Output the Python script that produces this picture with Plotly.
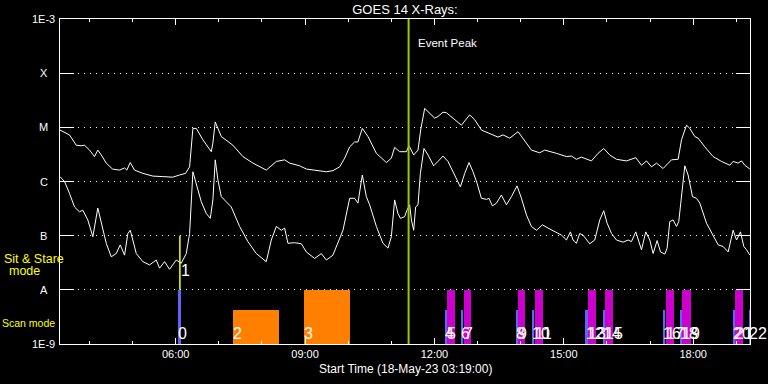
import numpy as np
import pandas as pd
import plotly.graph_objects as go

START = pd.Timestamp("2023-05-18 03:19:00")
END = pd.Timestamp("2023-05-18 19:19:00")
EVENT_PEAK = pd.Timestamp("2023-05-18 11:24:00")

# GOES 14 long channel: minutes after start, log10 flux (W/m^2)
long_min = [0, 13.2, 22.6, 29.5, 34.1, 41.1, 48.0, 52.6, 57.4, 64.3, 73.1, 82.8, 89.8, 93.0, 97.7,
            103.7, 115.3, 129.2, 143.1, 157.0, 166.3, 174.7, 180.3, 184.9, 189.6, 198.8, 210.5,
            212.7, 216.0, 224.4, 240.5, 254.5, 268.4, 287.0, 301.0, 312.5, 319.5, 333.4, 342.7,
            356.6, 370.6, 379.7, 389.1, 396.0, 403.0, 409.9, 414.5, 420.6, 428.5, 440.2, 454.1,
            461.0, 465.6, 472.6, 481.9, 485.5, 492.1, 498.1, 501.8, 507.4, 514.3, 521.3, 525.9,
            532.9, 537.6, 546.8, 558.5, 570.0, 577.0, 586.3, 597.9, 609.4, 616.4, 625.7, 637.3,
            644.2, 655.9, 667.4, 674.4, 690.7, 704.6, 711.6, 718.5, 725.5, 739.4, 748.6, 756.5,
            764.9, 774.2, 788.1, 801.1, 809.0, 816.0, 823.0, 829.9, 839.1, 846.1, 850.8, 860.0,
            864.7, 871.7, 876.3, 883.2, 887.8, 897.1, 908.7, 920.4, 932.0, 936.5, 943.5, 948.2,
            952.8, 959.8]
long_log = [-5.05, -5.14, -5.33, -5.34, -5.33, -5.42, -5.54, -5.42, -5.51, -5.66, -5.77, -5.79, -5.75,
            -5.79, -5.65, -5.79, -5.85, -5.90, -5.91, -5.92, -5.88, -5.85, -5.73, -5.02, -5.02,
            -5.23, -5.45, -5.29, -4.90, -5.17, -5.33, -5.54, -5.66, -5.79, -5.63, -5.60, -5.66,
            -5.71, -5.77, -5.80, -5.82, -5.80, -5.73, -5.57, -5.36, -5.27, -5.27, -5.02, -5.17,
            -5.48, -5.65, -5.57, -5.37, -5.45, -5.45, -5.34, -5.51, -5.42, -5.05, -4.65, -4.74,
            -4.83, -4.80, -4.72, -4.73, -4.83, -4.96, -4.77, -4.86, -5.05, -5.12, -5.18, -5.14,
            -5.20, -5.08, -5.20, -5.42, -5.47, -5.42, -5.48, -5.54, -5.53, -5.59, -5.55, -5.62,
            -5.48, -5.39, -5.51, -5.59, -5.62, -5.56, -5.70, -5.62, -5.73, -5.66, -5.76, -5.66,
            -5.60, -5.59, -5.23, -4.96, -5.02, -5.17, -5.20, -5.36, -5.54, -5.63, -5.70, -5.63,
            -5.66, -5.62, -5.70, -5.77]

# GOES 14 short channel: minutes after start, log10 flux (W/m^2)
short_min = [0, 6.3, 13.2, 20.2, 27.1, 31.7, 38.7, 45.7, 52.6, 57.4, 64.3, 71.3, 78.2, 83.8, 89.8,
             94.4, 97.7, 101.3, 106.1, 115.3, 124.6, 133.9, 138.5, 145.5, 152.4, 161.7, 168.7,
             175.7, 180.3, 184.9, 189.6, 196.5, 203.5, 209.1, 212.7, 216.0, 219.7, 224.4, 238.3,
             249.9, 261.4, 273.1, 287.0, 294.0, 301.0, 307.9, 312.5, 317.1, 326.4, 335.8, 342.7,
             354.3, 363.6, 370.6, 379.7, 386.7, 393.7, 403.0, 409.9, 414.5, 420.6, 426.2, 430.8,
             440.2, 449.3, 456.3, 461.0, 465.6, 470.2, 473.6, 479.5, 482.7, 486.5, 488.9, 492.1,
             494.8, 498.1, 501.4, 506.4, 512.0, 519.9, 525.9, 532.9, 539.8, 549.1, 557.1, 563.1,
             569.1, 574.6, 580.2, 586.3, 593.3, 596.9, 601.6, 607.2, 614.1, 621.1, 628.1, 635.9,
             642.0, 649.0, 655.9, 662.9, 671.2, 679.0, 688.3, 697.7, 704.6, 710.2, 713.8, 718.5,
             723.1, 727.7, 737.0, 744.0, 751.0, 756.5, 761.2, 767.3, 774.2, 783.4, 790.4, 795.1,
             801.1, 809.0, 815.0, 820.6, 825.2, 830.8, 835.5, 841.5, 844.7, 848.4, 853.0, 857.7,
             860.9, 864.7, 869.3, 873.9, 880.0, 885.6, 890.2, 899.5, 907.9, 915.7, 922.6, 929.6,
             936.5, 941.3, 946.8, 951.4, 955.2, 959.8]
short_log = [-5.91, -6.00, -6.22, -6.47, -6.56, -6.53, -6.71, -7.02, -6.49, -6.77, -7.14, -7.39, -7.33,
             -7.17, -7.36, -6.96, -6.90, -7.08, -7.33, -7.48, -7.54, -7.45, -7.60, -7.48, -7.62,
             -7.45, -7.51, -7.33, -6.96, -5.82, -6.03, -6.37, -6.59, -6.68, -6.34, -5.60, -5.97,
             -6.28, -6.47, -6.83, -7.11, -7.33, -7.48, -7.08, -6.83, -6.90, -6.86, -7.14, -7.13,
             -7.15, -7.30, -7.42, -7.33, -7.45, -7.36, -7.14, -6.90, -6.31, -6.31, -6.40, -5.88,
             -6.28, -6.43, -6.83, -7.14, -7.23, -7.02, -6.34, -6.59, -6.68, -6.65, -6.53, -6.43,
             -6.71, -6.90, -6.47, -6.43, -5.85, -5.39, -5.51, -5.71, -5.63, -5.53, -5.63, -5.88,
             -6.10, -5.85, -5.65, -5.82, -6.03, -6.31, -6.33, -6.31, -6.45, -6.40, -6.25, -6.43,
             -6.28, -6.08, -6.31, -6.62, -6.83, -6.90, -6.80, -6.86, -6.93, -6.99, -7.08, -6.93,
             -7.08, -7.14, -6.96, -6.99, -7.15, -7.08, -6.71, -6.54, -6.77, -6.96, -7.08, -7.12,
             -7.08, -7.11, -6.93, -7.26, -6.93, -7.08, -7.33, -7.09, -7.30, -7.34, -7.23, -6.74,
             -6.71, -6.83, -6.74, -6.22, -5.71, -5.88, -6.28, -6.31, -6.40, -6.77, -6.99, -7.17,
             -7.20, -7.30, -6.90, -7.08, -6.93, -7.20, -7.26, -7.36]

# Observations: number, kind, start / end (minutes after start), top level (log10)
obs_num = [0, 2, 3, 4, 5, 6, 7, 8, 9, 10, 11, 12, 13, 14, 15, 16, 17, 18, 19, 20, 21, 22]
obs_kind = ["scan", "raster", "raster", "scan", "stare", "scan", "stare", "scan", "stare", "scan",
            "stare", "scan", "stare", "scan", "stare", "scan", "stare", "scan", "stare", "scan",
            "stare", "scan"]
obs_start = [164.5, 240.1, 339.0, 535.2, 538.0, 557.5, 561.7, 634.1, 636.9, 656.3, 660.5, 731.7,
             734.3, 755.2, 758.0, 838.7, 842.9, 862.4, 865.2, 936.1, 938.9, 958.4]
obs_end = [167.7, 305.1, 404.0, 538.0, 549.1, 560.7, 572.4, 636.9, 647.6, 659.5, 671.6, 734.3,
           746.4, 758.0, 769.2, 842.4, 854.4, 865.2, 877.3, 938.9, 950.0, 962.2]
obs_top = [-8.0, -8.37, -8.0, -8.37, -8.0, -8.37, -8.0, -8.37, -8.0, -8.37, -8.0, -8.37, -8.0, -8.37,
           -8.0, -8.37, -8.0, -8.37, -8.0, -8.37, -8.0, -8.37]

# Sit & Stare mode marker (obs 1)
ss_num = 1
ss_time = 166.8
ss_levels = [-7.0, -8.0]

tick_levels = [-3, -4, -5, -6, -7, -8, -9]
tick_names = ["1E-3", "X", "M", "C", "B", "A", "1E-9"]


def t(m):
    return START + pd.to_timedelta(np.asarray(m, dtype=float), unit="m")


FONT = "Liberation Sans"
fig = go.Figure()

kind_color = {"scan": "#6262ff", "raster": "#ff8000", "stare": "#cc00cc"}
for kind in ["raster", "scan", "stare"]:
    idx = [i for i, k in enumerate(obs_kind) if k == kind]
    s = np.array([obs_start[i] for i in idx], dtype=float)
    e = np.array([obs_end[i] for i in idx], dtype=float)
    top = np.array([obs_top[i] for i in idx], dtype=float)
    fig.add_trace(go.Bar(
        x=t((s + e) / 2), y=10.0 ** top - 1e-9, base=1e-9,
        width=(e - s) * 60000.0, marker=dict(color=kind_color[kind], line=dict(width=0)),
        hoverinfo="skip", showlegend=False))

fig.add_trace(go.Scatter(x=t([ss_time, ss_time]), y=10.0 ** np.array(ss_levels, dtype=float),
                         mode="lines", line=dict(color="#ffff00", width=1.5),
                         hoverinfo="skip", showlegend=False))

fig.add_trace(go.Scatter(x=t(short_min), y=10.0 ** np.array(short_log), mode="lines",
                         line=dict(color="white", width=1), showlegend=False))
fig.add_trace(go.Scatter(x=t(long_min), y=10.0 ** np.array(long_log), mode="lines",
                         line=dict(color="white", width=1), showlegend=False))

fig.add_trace(go.Scatter(x=[EVENT_PEAK, EVENT_PEAK],
                         y=[10.0 ** tick_levels[-1], 10.0 ** tick_levels[0]],
                         mode="lines", line=dict(color="#99cc00", width=2),
                         hoverinfo="skip", showlegend=False))

ann = []
for n, s in zip(obs_num, obs_start):
    ann.append(dict(x=t(s), y=-8.80, xref="x", yref="y", text=str(n), showarrow=False,
                    xanchor="left", yanchor="middle", xshift=-2,
                    font=dict(family=FONT, size=16, color="white")))
ann.append(dict(x=t(ss_time), y=-7.65, xref="x", yref="y", text=str(ss_num), showarrow=False,
                xanchor="left", yanchor="middle", xshift=-1,
                font=dict(family=FONT, size=16, color="white")))
ann.append(dict(x=EVENT_PEAK, y=-3.44, xref="x", yref="y", text="Event Peak", showarrow=False,
                xanchor="left", yanchor="middle", xshift=7,
                font=dict(family=FONT, size=11.5, color="white")))
for lv, nm in zip(tick_levels, tick_names):
    ann.append(dict(x=-0.0232, y=lv, xref="paper", yref="y", text=nm, showarrow=False,
                    xanchor="center", yanchor="middle",
                    font=dict(family=FONT, size=11, color="white")))
ann.append(dict(x=-0.038, y=-7.43, xref="paper", yref="y", text="Sit & Stare", showarrow=False,
                xanchor="center", yanchor="middle", font=dict(family=FONT, size=12.5, color="#ffff00")))
ann.append(dict(x=-0.0517, y=-7.65, xref="paper", yref="y", text="mode", showarrow=False,
                xanchor="center", yanchor="middle", font=dict(family=FONT, size=12.5, color="#ffff00")))
ann.append(dict(x=-0.0457, y=-8.62, xref="paper", yref="y", text="Scan mode", showarrow=False,
                xanchor="center", yanchor="middle", font=dict(family=FONT, size=10.5, color="#ffff00")))
ann.append(dict(x=0.5, y=-0.077, xref="paper", yref="paper",
                text="Start Time (18-May-23 03:19:00)", showarrow=False,
                xanchor="center", yanchor="middle", font=dict(family=FONT, size=12, color="white")))

fig.update_layout(
    width=768, height=384,
    margin=dict(l=60, r=18, t=19, b=40),
    paper_bgcolor="black", plot_bgcolor="black",
    barmode="overlay", bargap=0,
    title=dict(text="GOES 14 X-Rays:", x=0.5, xref="paper", y=(384 - 9.5) / 384,
               yref="container", xanchor="center", yanchor="middle",
               font=dict(family=FONT, size=13, color="white")),
    annotations=ann,
    showlegend=False,
)
fig.update_xaxes(
    type="date", range=[START, END],
    tick0="2023-05-18 00:00", dtick=3 * 3600 * 1000, tickformat="%H:%M",
    ticks="inside", ticklen=6, tickwidth=1, tickcolor="white",
    minor=dict(dtick=3600 * 1000, ticks="inside", ticklen=3, tickcolor="white", showgrid=False),
    showline=True, linecolor="white", linewidth=1, mirror="allticks",
    showgrid=False, zeroline=False,
    tickfont=dict(family=FONT, size=11, color="white"),
)
fig.update_yaxes(
    type="log", range=[-9, -3],
    tickvals=[10.0 ** v for v in tick_levels[1:-1]],
    showticklabels=False,
    ticks="inside", ticklen=14, tickwidth=1, tickcolor="white",
    showline=True, linecolor="white", linewidth=1, mirror="allticks",
    showgrid=True, gridcolor="white", gridwidth=1, griddash="1px,5px",
    zeroline=False,
)

fig.write_html("out.html", config={"displayModeBar": False},
               post_script="document.body.style.margin='0';document.body.style.background='black';")
